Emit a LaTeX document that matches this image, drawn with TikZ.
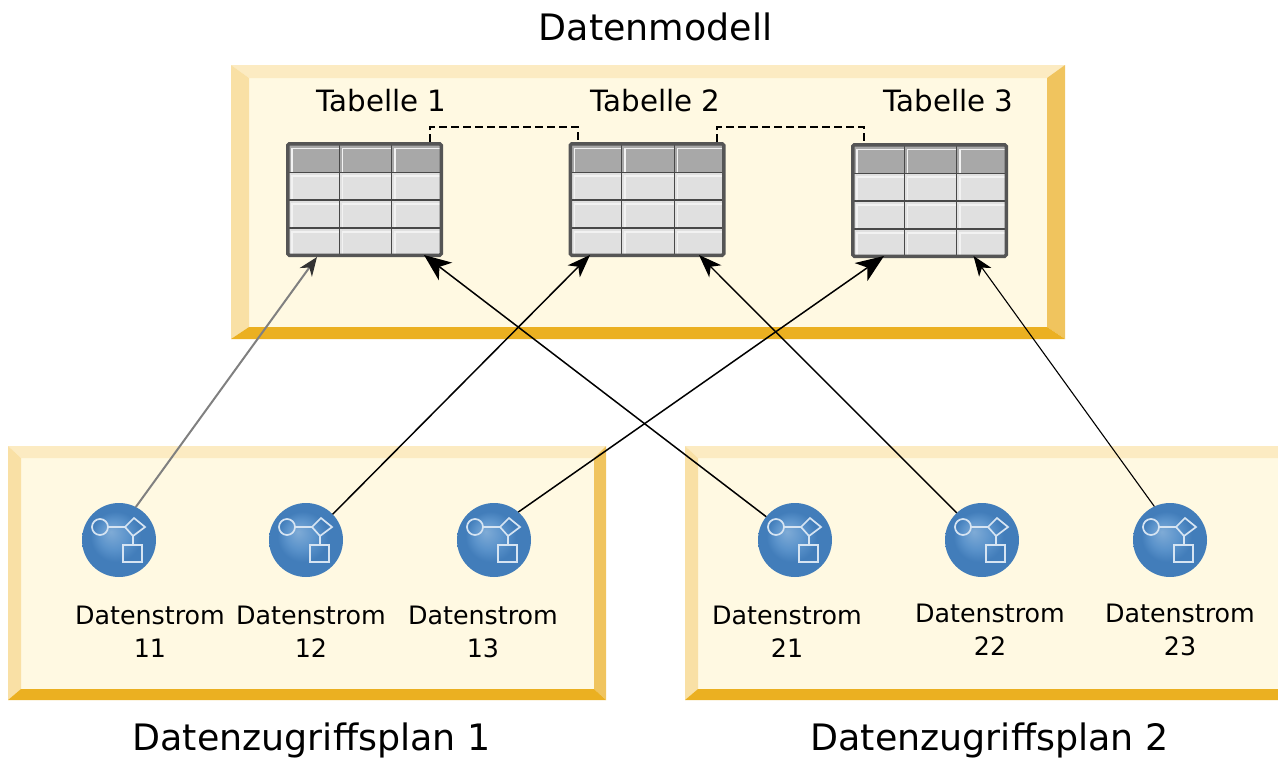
\documentclass[tikz,border=0pt]{standalone}
\usepackage{fontspec}
\setmainfont{DejaVu Sans}
\usetikzlibrary{calc,arrows.meta}
\definecolor{panelfill}{HTML}{FFF9E2}
\definecolor{bandtop}{HTML}{FCEBC2}
\definecolor{bandleft}{HTML}{F9E0A5}
\definecolor{bandright}{HTML}{F0C45E}
\definecolor{bandbottom}{HTML}{EBB021}
\definecolor{tableedge}{HTML}{555555}
\definecolor{tablegrid}{HTML}{484848}
\definecolor{headcell}{HTML}{A8A8A8}
\definecolor{bodycell}{HTML}{E0E0E0}
\definecolor{globeA}{HTML}{7FABD6}
\definecolor{globeB}{HTML}{5B93CB}
\definecolor{globeC}{HTML}{427DBA}
\pgfdeclareradialshading{globe}{\pgfpoint{-0.2cm}{0.2cm}}{%
  color(0cm)=(globeA);
  color(0.35cm)=(globeB);
  color(0.6cm)=(globeC);
  color(1cm)=(globeC)}
\def\px{0.75pt}
\tikzset{
  x=0.75pt,y=-0.75pt,
  flow/.style n args={3}{draw=black,line width=#1*\px,-{Stealth[length=#2*\px,width=#3*\px,inset=0.28*#2*\px]}},
  flowgrey/.style={draw=black!50,line width=2*\px,-{Stealth[length=19*\px,width=15*\px,inset=6*\px,black!80]}},
  dashlink/.style={draw=black,line width=1.3*\px,dash pattern=on 8*\px off 4*\px},
  tablebox/.style={draw=tableedge,line width=3.5*\px,rounded corners=1.5*\px,minimum width=153.5*\px,minimum height=111.5*\px,inner sep=0pt},
  streamdot/.style={circle,shading=globe,minimum size=74*\px,inner sep=0pt,outer sep=0pt},
  icon/.style={draw=white!75!globeB,line width=1.7*\px},
  heading/.style={font=\fontsize{27.3}{30}\selectfont,inner sep=0pt},
  tabletitle/.style={font=\fontsize{22}{26}\selectfont,inner sep=0pt},
  streamtitle/.style={font=\fontsize{19}{24.75}\selectfont,align=center,inner sep=0pt},
}
% name, left, top (table is 157 wide, 115 high)
\newcommand{\datatable}[3]{%
  \begin{scope}[shift={(#2,#3)}]
    \fill[tablegrid] (2,2) rectangle (155,113);
    \foreach \cx/\wd in {3/49.7,53.7/51.3,106/49}{
      \foreach \cy/\ht/\col in {3/26.7,30.7/26.7,58.7/26.7,86.7/26.3}{
        \ifdim\cy pt<4pt \def\col{headcell}\else\def\col{bodycell}\fi
        \fill[\col] (\cx,\cy) rectangle ++(\wd,\ht);
        \draw[white!95!black,line width=1.5*\px] (\cx+3,\cy+\ht) -- (\cx+3,\cy+3.5) -- (\cx+\wd,\cy+3.5);
      }
    }
  \end{scope}
  \node[tablebox] (#1) at (#2+78.5,#3+57.5) {};
}
% name, cx, cy
\newcommand{\stream}[3]{%
  \node[streamdot] (#1) at (#2,#3) {};
  \begin{scope}[shift={(#2,#3)}]
    \draw[icon] (-19,-13) circle (8);
    \draw[icon] (-11,-13) -- (6,-13);
    \draw[icon] (6,-13) -- (15,-22) -- (26,-13) -- (14,-4) -- cycle;
    \draw[icon] (14,-4) -- (14,5);
    \draw[icon] (4,5) rectangle (23,22);
  \end{scope}
}
% x0,y0,x1,y1,x2,y2,x3,y3 outer and inner
\newcommand{\panel}[8]{%
  \fill[panelfill] (#5,#6) rectangle (#7,#8);
  \fill[bandtop] (#1,#2) -- (#3,#2) -- (#7,#6) -- (#5,#6) -- cycle;
  \fill[bandleft] (#1,#2) -- (#5,#6) -- (#5,#8) -- (#1,#4) -- cycle;
  \fill[bandright] (#3,#2) -- (#3,#4) -- (#7,#8) -- (#7,#6) -- cycle;
  \fill[bandbottom] (#1,#4) -- (#3,#4) -- (#7,#8) -- (#5,#8) -- cycle;
}
\begin{document}
\begin{tikzpicture}
\useasboundingbox (0,0) rectangle (1278,757);
\panel{231}{65}{1065}{339}{249}{78}{1047}{327}
\panel{8}{446}{606}{700}{21}{458}{594}{689}
\panel{685}{446}{1278}{700}{698}{458}{1278}{689}

\node[heading] (title) at (655.5,27) {Datenmodell};
\node[heading] (planA) at (311.5,740) {Datenzugriffsplan 1};
\node[heading] (planB) at (989.5,740) {Datenzugriffsplan 2};

\node[tabletitle] (lab1) at (381.5,101) {Tabelle 1};
\node[tabletitle] (lab2) at (655.5,101) {Tabelle 2};
\node[tabletitle] (lab3) at (948.5,101) {Tabelle 3};

\datatable{t1}{286}{142}
\datatable{t2}{568.5}{142}
\datatable{t3}{851}{143}

\stream{s11}{119}{540}
\stream{s12}{306}{540}
\stream{s13}{494}{540}
\stream{s21}{795}{540}
\stream{s22}{982}{540}
\stream{s23}{1170}{540}

\node[streamtitle] (n11) at (150,632) {Datenstrom\\11};
\node[streamtitle] (n12) at (311,632) {Datenstrom\\12};
\node[streamtitle] (n13) at (483,632) {Datenstrom\\13};
\node[streamtitle] (n21) at (787,632) {Datenstrom\\21};
\node[streamtitle] (n22) at (990,630) {Datenstrom\\22};
\node[streamtitle] (n23) at (1180,630) {Datenstrom\\23};

\draw[dashlink] ($(t1.north)+(65.5,0)$) -- ++(0,-15) -| ($(t2.north)+(-69,0)$);
\draw[dashlink] ($(t2.north)+(70,0)$) -- ++(0,-15) -| ($(t3.north)+(-65.5,0)$);

\draw[flowgrey] (s11.63) -- ($(t1.south)+(-47.5,0)$);
\draw[flow={1.5}{23}{17}] (s12.44) -- ($(t2.south)+(-57,-2)$);
\draw[flow={1.5}{28}{22}] (s13.49) -- ($(t3.south)+(-45.5,-2)$);
\draw[flow={1.5}{27}{22}] (s21.141) -- ($(t1.south)+(59.5,-2)$);
\draw[flow={1.4}{23}{17}] (s22.133) -- ($(t2.south)+(52,-2)$);
\draw[flow={1.1}{20}{15}] (s23.115) -- ($(t3.south)+(44,-2)$);
\end{tikzpicture}
\end{document}
